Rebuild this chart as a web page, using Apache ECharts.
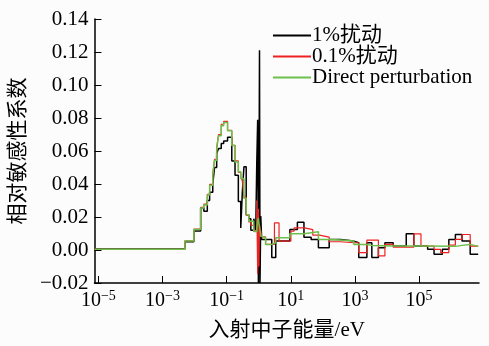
<!DOCTYPE html>
<html>
<head>
<meta charset="utf-8">
<script src="https://cdn.jsdelivr.net/npm/echarts@6/dist/echarts.min.js"></script>
<style>
  html, body { margin: 0; padding: 0; background: #fcfcfc; }
  #chart { width: 489px; height: 346px; }
</style>
</head>
<body>
<div id="chart"></div>
<script>
// Relative sensitivity coefficient vs incident neutron energy (multigroup, step form)
const seriesNames = ['1%扰动', '0.1%扰动', 'Direct perturbation'];
const xTickExponents = [-5, -3, -1, 1, 3, 5];

// Group boundaries (eV) below 1.24 eV, shared by all three curves
const lowEdges = [7.6e-6, 5.0e-3, 9.5e-3, 1.55e-2, 1.95e-2, 2.5e-2, 2.95e-2, 3.7e-2, 4.2e-2,
  4.9e-2, 5.6e-2, 6.8e-2, 8.1e-2, 0.107, 0.145, 0.183, 0.211, 0.232, 0.276, 0.309, 0.347,
  0.408, 0.49, 0.569, 0.705, 0.81, 0.87, 0.93, 0.98, 1.02, 1.06, 1.10, 1.16, 1.24];

// 1% perturbation
const blackLowValues = [0.0006, 0.0050, 0.0115, 0.0254, 0.0235, 0.0300, 0.0350, 0.0400, 0.0500,
  0.0585, 0.0615, 0.0645, 0.0660, 0.0683, 0.0540, 0.0453, 0.0453, 0.0294, 0.0134, 0.0350, 0.0505,
  0.0213, 0.0190, 0.0120, 0.0190, 0.0120, 0.0520, 0.0790, -0.0200, 0.0300, 0.1210, -0.0200, 0.0206];
const blackHighEdges = [1.24, 2.56, 3.40, 9.38, 16.1, 25.8, 43.2, 72.8, 158, 359, 925, 1318, 2366,
  3373, 5410, 8630, 1.56e4, 3.99e4, 6.87e4, 1.85e5, 2.94e5, 5.33e5, 8.5e5, 1.36e6, 2.19e6, 3.94e6, 7.0e6];
const blackHighValues = [0.0064, -0.0046, 0.0054, 0.0124, 0.0168, 0.0078, 0.0064, 0.0014, 0.0064,
  0.0054, 0.0044, -0.0046, 0.0044, -0.0046, 0.0014, 0.0044, 0.0024, 0.0098, 0.0024, 0.0004,
  -0.0026, 0.0004, 0.0064, 0.0094, 0.0054, -0.0026];

// 0.1% perturbation
const redLowValues = [0.0004, 0.0056, 0.0126, 0.0258, 0.0278, 0.0338, 0.0398, 0.0460, 0.0550,
  0.0620, 0.0700, 0.0762, 0.0780, 0.0725, 0.0635, 0.0540, 0.0540, 0.0470, 0.0440, 0.0420, 0.0320,
  0.0210, 0.0170, 0.0150, 0.0110, 0.0120, 0.0300, -0.0146, 0.0250, -0.0100, 0.0150, 0.0080, 0.0120];
const redHighEdges = [1.24, 1.64, 3.10, 4.31, 10.1, 12.7, 27.1, 48.6, 78.2, 158, 359, 925, 1318,
  2366, 5410, 8630, 1.56e4, 6.87e4, 1.15e5, 2.94e5, 4.73e5, 8.5e5, 1.36e6, 2.19e6, 3.94e6, 7.0e6];
const redHighValues = [0.0080, 0.0034, 0.0164, 0.0054, 0.0114, 0.0134, 0.0124, 0.0090, 0.0078,
  0.0050, 0.0044, 0.0044, -0.0016, 0.0060, -0.0036, 0.0034, 0.0018, 0.0098, 0.0024, 0.0004,
  -0.0016, 0.0030, 0.0064, 0.0094, 0.0024];

// Direct perturbation
const greenLowValues = [0.0004, 0.0054, 0.0124, 0.0254, 0.0273, 0.0333, 0.0393, 0.0453, 0.0543,
  0.0613, 0.0693, 0.0753, 0.0773, 0.0723, 0.0633, 0.0534, 0.0534, 0.0474, 0.0433, 0.0433, 0.0314,
  0.0213, 0.0174, 0.0174, 0.0114, 0.0110, 0.0130, 0.0180, 0.0194, 0.0160, 0.0146, 0.0120, 0.0084];
const greenHighEdges = [1.24, 1.64, 2.56, 3.40, 9.38, 25.8, 72.8, 158, 359, 925, 2366, 3373,
  1.56e4, 1.15e5, 1.36e6, 2.19e6, 3.94e6, 7.0e6];
const greenHighValues = [0.0074, 0.0034, 0.0044, 0.0074, 0.0098, 0.0110, 0.0064, 0.0060, 0.0054,
  0.0034, 0.0028, 0.0024, 0.0024, 0.0022, 0.0028, 0.0034, 0.0022];

const colors = ['#000000', '#ee2222', '#6cc04a'];
const serif = "'Liberation Serif', 'Times New Roman', 'Noto Sans CJK SC', serif";

// One point per group start (plus the closing edge) -> horizontal steps
function stepData(lowVals, highEdges, highVals) {
  const edges = lowEdges.concat(highEdges.slice(1));
  const vals = lowVals.concat(highVals);
  const pts = [];
  for (let i = 0; i < vals.length; i++) pts.push([Math.log10(edges[i]), vals[i]]);
  pts.push([Math.log10(edges[edges.length - 1]), vals[vals.length - 1]]);
  return pts;
}

const curves = [
  stepData(blackLowValues, blackHighEdges, blackHighValues),
  stepData(redLowValues, redHighEdges, redHighValues),
  stepData(greenLowValues, greenHighEdges, greenHighValues)
];
const widths = [1.5, 1.2, 1.5];

const chart = echarts.init(document.getElementById('chart'), null, { renderer: 'canvas' });
chart.setOption({
  backgroundColor: '#fcfcfc',
  animation: false,
  grid: { left: 88, right: 10, top: 19, bottom: 60, containLabel: false },
  legend: {
    orient: 'vertical',
    left: 268,
    top: 20,
    itemWidth: 38,
    itemHeight: 2,
    itemGap: 0,
    icon: 'rect',
    data: seriesNames,
    textStyle: { fontFamily: serif, fontSize: 21, color: '#000', lineHeight: 19, padding: [0, 0, 0, -4] }
  },
  xAxis: {
    type: 'value',
    min: -5.12,
    max: 6.87,
    name: '入射中子能量/eV',
    nameLocation: 'middle',
    nameGap: 37,
    nameTextStyle: { fontFamily: serif, fontSize: 21, color: '#000' },
    axisLine: { onZero: false, lineStyle: { color: '#000', width: 1.5 } },
    axisTick: { inside: true, length: 7, customValues: xTickExponents, lineStyle: { color: '#000', width: 1 } },
    axisLabel: {
      customValues: xTickExponents,
      margin: 6,
      formatter: v => '{b|10}{s|' + (v < 0 ? '−' : '') + Math.abs(v) + '}',
      rich: {
        b: { fontFamily: serif, fontSize: 20, color: '#000', verticalAlign: 'bottom', lineHeight: 22 },
        s: { fontFamily: serif, fontSize: 14, color: '#000', verticalAlign: 'top', lineHeight: 22 }
      }
    },
    splitLine: { show: false }
  },
  yAxis: {
    type: 'value',
    min: -0.02,
    max: 0.14,
    interval: 0.02,
    name: '相对敏感性系数',
    nameLocation: 'middle',
    nameGap: 54,
    nameTextStyle: { fontFamily: serif, fontSize: 21, color: '#000' },
    axisLine: { show: true, onZero: false, lineStyle: { color: '#000', width: 1.5 } },
    axisTick: { show: true, inside: true, length: 7, lineStyle: { color: '#000', width: 1 } },
    axisLabel: {
      margin: 6,
      fontFamily: serif,
      fontSize: 21,
      color: '#000',
      formatter: v => (v < -1e-9 ? '−' : '') + Math.abs(v).toFixed(2)
    },
    splitLine: { show: false }
  },
  series: seriesNames.map((name, i) => ({
    name: name,
    type: 'line',
    step: 'end',
    data: curves[i],
    showSymbol: false,
    symbol: 'none',
    color: colors[i],
    lineStyle: { color: colors[i], width: widths[i] },
    z: 2 + i
  }))
});
</script>
</body>
</html>
